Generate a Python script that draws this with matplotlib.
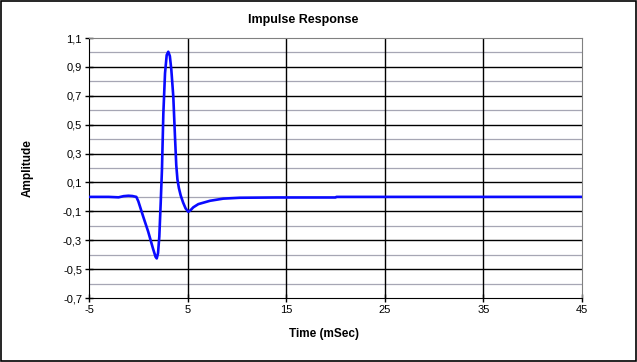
import numpy as np
import matplotlib
matplotlib.use('Agg')
from matplotlib import pyplot as plt
from matplotlib.patches import Rectangle

# impulse response
time_ms = [-5, -3, -2, -1.5, -1.0, -0.6, -0.2, 0.0, 0.5, 1.0, 1.5, 1.75, 1.87,
           2.0, 2.13, 2.27, 2.4, 2.54, 2.71, 2.88, 3.04, 3.2, 3.35, 3.55,
           3.72, 3.85, 3.97, 4.12, 4.3, 4.55, 4.8, 5.07, 5.3, 5.58, 6.09,
           7.27, 8.62, 10.3, 14, 20, 20.1, 45]
amplitude = [0.0, 0.0, -0.003, 0.005, 0.008, 0.006, 0.0, -0.03, -0.137,
             -0.24, -0.36, -0.415, -0.426, -0.39, -0.276, -0.045, 0.19,
             0.578, 0.856, 0.982, 1.005, 0.975, 0.88, 0.694, 0.417, 0.22,
             0.12, 0.06, 0.01, -0.04, -0.08, -0.103, -0.092, -0.072, -0.05,
             -0.027, -0.012, -0.006, -0.004, -0.004, 0.0, 0.0]

x_ticks = [-5, 5, 15, 25, 35, 45]
y_major = [-0.7, -0.5, -0.3, -0.1, 0.1, 0.3, 0.5, 0.7, 0.9, 1.1]
y_minor = [-0.6, -0.4, -0.2, 0.0, 0.2, 0.4, 0.6, 0.8, 1.0]

plt.rcParams['font.family'] = ['Liberation Sans', 'DejaVu Sans']

fig = plt.figure(figsize=(6.37, 3.62), dpi=100)
ax = fig.add_axes([89 / 637, 1 - 298 / 362, 493 / 637, 260 / 362])

ax.set_xlim(-5, 45)
ax.set_ylim(-0.7, 1.1)
ax.set_xticks(x_ticks)
ax.set_yticks(y_major)
ax.set_yticks(y_minor, minor=True)
ax.set_yticklabels([('%.1f' % v).replace('.', ',') for v in y_major], fontsize=8)
ax.set_xticklabels([str(v) for v in x_ticks], fontsize=8)

for v in y_minor:
    ax.axhline(v, color='#a6a6b4', lw=0.9, zorder=1)
for v in y_major[1:-1]:
    ax.axhline(v, color='black', lw=1.0, zorder=1)
for v in x_ticks[1:-1]:
    ax.axvline(v, color='black', lw=1.0, zorder=1)

ax.plot(time_ms, amplitude, color='#0a0aff', lw=1.9, zorder=3,
        solid_joinstyle='round', solid_capstyle='round')

ax.spines['top'].set_color('#808080')
ax.spines['right'].set_color('#808080')
ax.spines['left'].set_color('black')
ax.spines['bottom'].set_color('black')
ax.tick_params(axis='both', which='major', direction='inout', length=6, width=1, pad=2)
ax.tick_params(axis='y', which='minor', length=0)

fig.text(303 / 637, 1 - 20 / 362, 'Impulse Response', ha='center', va='center',
         fontsize=9, fontweight='bold')
fig.text(324 / 637, 1 - 334 / 362, 'Time (mSec)', ha='center', va='center',
         fontsize=8.5, fontweight='bold')
fig.text(28 / 637, 1 - 168 / 362, 'Amplitude', ha='center', va='center',
         rotation=90, fontsize=8.5, fontweight='bold')

fig.patches.append(Rectangle((0.001, 0.002), 0.997, 0.995, transform=fig.transFigure,
                             fill=False, edgecolor='black', lw=1.2))

plt.savefig('out.png', dpi=100)
plt.close()
